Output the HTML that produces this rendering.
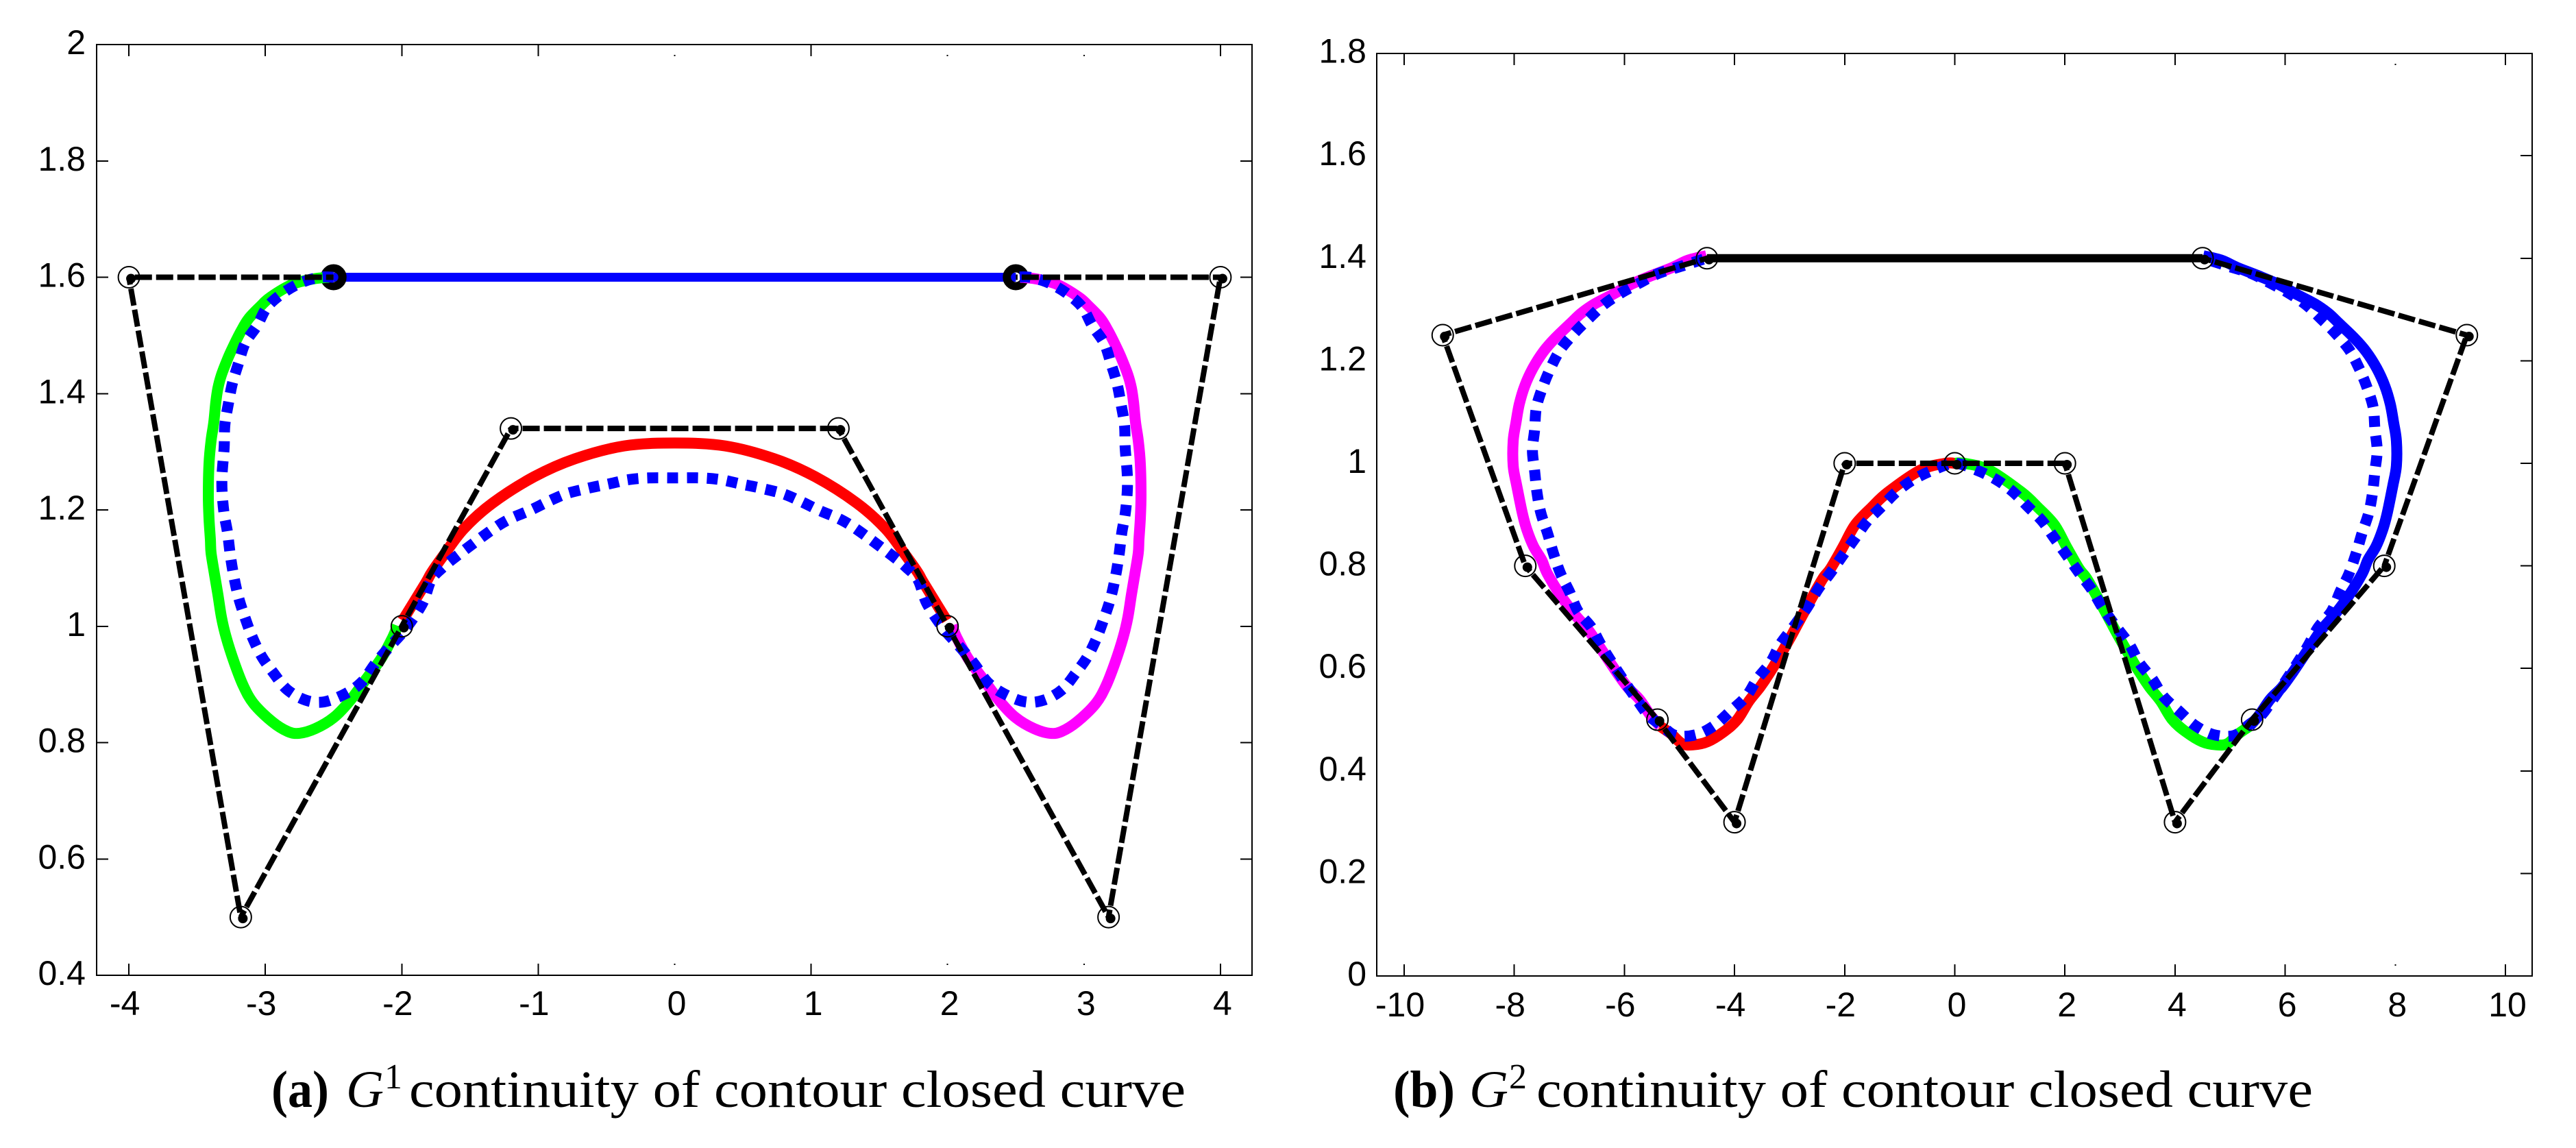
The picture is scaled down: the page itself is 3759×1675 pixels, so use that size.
<!DOCTYPE html>
<html lang="en">
<head>
<meta charset="utf-8">
<title>G1 and G2 continuity of contour closed curve</title>
<style>
html,body{margin:0;padding:0;background:#fff;}
svg{display:block;}
.tick-label{font-family:"Liberation Sans",Arial,sans-serif;fill:#000;}
.caption{font-family:"Liberation Serif","Times New Roman",serif;fill:#000;}
</style>
</head>
<body>
<svg id="figure" xmlns="http://www.w3.org/2000/svg" width="3759" height="1675" viewBox="0 0 3759 1675">
<rect x="0" y="0" width="3759" height="1675" fill="#ffffff"/>
<g id="chart-a"></g>
<g id="chart-b"></g>
<g>
<text class="caption" x="396" y="1615" font-size="76" font-weight="bold" textLength="84" lengthAdjust="spacingAndGlyphs">(a)</text>
<text class="caption" x="505" y="1615" font-size="76" font-style="italic" textLength="55" lengthAdjust="spacingAndGlyphs">G</text>
<text class="caption" x="561" y="1588" font-size="52">1</text>
<text class="caption" x="597" y="1615" font-size="76" textLength="1133" lengthAdjust="spacingAndGlyphs">continuity of contour closed curve</text>
</g>
<g>
<text class="caption" x="2033" y="1615" font-size="76" font-weight="bold" textLength="90" lengthAdjust="spacingAndGlyphs">(b)</text>
<text class="caption" x="2144" y="1615" font-size="76" font-style="italic" textLength="57" lengthAdjust="spacingAndGlyphs">G</text>
<text class="caption" x="2202" y="1588" font-size="52">2</text>
<text class="caption" x="2242" y="1615" font-size="76" textLength="1133" lengthAdjust="spacingAndGlyphs">continuity of contour closed curve</text>
</g>
</svg>
<script>
/* ---------- Chart (a) data ---------- */
const xTicksA = [-4,-3,-2,-1,0,1,2,3,4];
const xTickLabelsA = ["-4","-3","-2","-1","0","1","2","3","4"];
const yTicksA = [0.4,0.6,0.8,1,1.2,1.4,1.6,1.8,2];
const yTickLabelsA = ["0.4","0.6","0.8","1","1.2","1.4","1.6","1.8","2"];
const faintXTicksA = [0,2,3];
const controlPolygonA = [[-2.5,1.6],[-4,1.6],[-3.18,0.5],[-2,1],[-1.2,1.34],[1.2,1.34],[2,1],[3.18,0.5],[4,1.6],[2.5,1.6]];
const openPointsA = [[-4,1.6],[-3.18,0.5],[-2,1],[-1.2,1.34],[1.2,1.34],[2,1],[3.18,0.5],[4,1.6]];
const joinPointsA = [[-2.5,1.6],[2.5,1.6]];
const topSegmentA = [[-2.5,1.6],[2.5,1.6]];
const greenCurveA = [[-2.534,1.6],[-2.65,1.597],[-2.8,1.588],[-2.961,1.566],[-3.036,1.55],[-3.122,1.529],[-3.177,1.508],[-3.227,1.485],[-3.272,1.462],[-3.322,1.432],[-3.348,1.409],[-3.363,1.385],[-3.378,1.35],[-3.398,1.319],[-3.413,1.279],[-3.418,1.225],[-3.413,1.185],[-3.403,1.149],[-3.398,1.126],[-3.373,1.09],[-3.348,1.055],[-3.322,1.016],[-3.287,0.981],[-3.227,0.937],[-3.162,0.898],[-3.086,0.867],[-2.951,0.836],[-2.835,0.819],[-2.75,0.816],[-2.634,0.824],[-2.499,0.843],[-2.383,0.871],[-2.268,0.907],[-2.147,0.946],[-2.067,0.981],[-2.032,1.001]];
const magentaCurveA = [[2.534,1.6],[2.65,1.597],[2.8,1.588],[2.961,1.566],[3.036,1.55],[3.122,1.529],[3.177,1.508],[3.227,1.485],[3.272,1.462],[3.322,1.432],[3.348,1.409],[3.363,1.385],[3.378,1.35],[3.398,1.319],[3.413,1.279],[3.418,1.225],[3.413,1.185],[3.403,1.149],[3.398,1.126],[3.373,1.09],[3.348,1.055],[3.322,1.016],[3.287,0.981],[3.227,0.937],[3.162,0.898],[3.086,0.867],[2.951,0.836],[2.835,0.819],[2.75,0.816],[2.634,0.824],[2.499,0.843],[2.383,0.871],[2.268,0.907],[2.147,0.946],[2.067,0.981],[2.032,1.001]];
const redCurveA = [[-1.994,1.01],[-1.826,1.074],[-1.783,1.092],[-1.69,1.123],[-1.544,1.168],[-1.333,1.212],[-1.03,1.257],[-0.73,1.288],[-0.37,1.31],[0,1.315],[0.37,1.31],[0.73,1.288],[1.03,1.257],[1.333,1.212],[1.544,1.168],[1.69,1.123],[1.783,1.092],[1.826,1.074],[1.994,1.01]];
const blueDottedA = [[-2.5,1.6],[-2.6,1.6],[-2.735,1.591],[-2.87,1.573],[-2.986,1.549],[-3.06,1.517],[-3.147,1.487],[-3.197,1.452],[-3.242,1.417],[-3.272,1.381],[-3.297,1.346],[-3.302,1.307],[-3.317,1.262],[-3.317,1.231],[-3.302,1.193],[-3.277,1.161],[-3.257,1.123],[-3.232,1.087],[-3.197,1.05],[-3.152,1.017],[-3.097,0.982],[-3.026,0.948],[-2.941,0.92],[-2.84,0.891],[-2.705,0.873],[-2.57,0.87],[-2.413,0.884],[-2.293,0.904],[-2.197,0.935],[-2.1,0.962],[-1.974,0.995],[-1.849,1.039],[-1.783,1.08],[-1.695,1.102],[-1.585,1.123],[-1.344,1.165],[-1.213,1.184],[-1.062,1.199],[-0.922,1.215],[-0.791,1.228],[-0.62,1.238],[-0.475,1.245],[-0.339,1.252],[-0.188,1.255],[0,1.255],[0.188,1.255],[0.339,1.252],[0.475,1.245],[0.62,1.238],[0.791,1.228],[0.922,1.215],[1.062,1.199],[1.213,1.184],[1.344,1.165],[1.585,1.123],[1.695,1.102],[1.783,1.08],[1.849,1.039],[1.974,0.995],[2.1,0.962],[2.197,0.935],[2.293,0.904],[2.413,0.884],[2.57,0.87],[2.705,0.873],[2.84,0.891],[2.941,0.92],[3.026,0.948],[3.097,0.982],[3.152,1.017],[3.197,1.05],[3.232,1.087],[3.257,1.123],[3.277,1.161],[3.302,1.193],[3.317,1.231],[3.317,1.262],[3.302,1.307],[3.297,1.346],[3.272,1.381],[3.242,1.417],[3.197,1.452],[3.147,1.487],[3.06,1.517],[2.986,1.549],[2.87,1.573],[2.735,1.591],[2.6,1.6],[2.5,1.6]];

/* ---------- Chart (b) data ---------- */
const xTicksB = [-10,-8,-6,-4,-2,0,2,4,6,8,10];
const xTickLabelsB = ["-10","-8","-6","-4","-2","0","2","4","6","8","10"];
const yTicksB = [0,0.2,0.4,0.6,0.8,1,1.2,1.4,1.6,1.8];
const yTickLabelsB = ["0","0.2","0.4","0.6","0.8","1","1.2","1.4","1.6","1.8"];
const faintXTicksB = [8];
const controlPolygonB = [[-4.5,1.4],[-9.3,1.25],[-7.8,0.8],[-5.4,0.5],[-4,0.3],[-2,1],[2,1],[4,0.3],[5.4,0.5],[7.8,0.8],[9.3,1.25],[4.5,1.4]];
const openPointsB = [[-9.3,1.25],[-4.5,1.4],[4.5,1.4],[9.3,1.25],[-7.8,0.8],[7.8,0.8],[-5.4,0.5],[5.4,0.5],[-4,0.3],[4,0.3],[-2,1],[0,1],[2,1]];
const topSegmentB = [[-4.5,1.4],[4.5,1.4]];
const magentaCurveB = [[-4.51,1.405],[-4.85,1.396],[-5.13,1.382],[-5.51,1.366],[-5.88,1.349],[-6.22,1.329],[-6.54,1.311],[-6.78,1.293],[-6.96,1.275],[-7.25,1.245],[-7.47,1.218],[-7.66,1.186],[-7.81,1.151],[-7.91,1.115],[-7.97,1.079],[-8.02,1.044],[-8.02,0.995],[-7.96,0.959],[-7.91,0.932],[-7.85,0.901],[-7.77,0.87],[-7.65,0.838],[-7.5,0.811],[-7.4,0.785],[-7.15,0.741],[-6.9,0.705],[-6.65,0.674],[-6.4,0.634],[-6.15,0.594],[-5.94,0.563],[-5.73,0.54],[-5.53,0.509],[-5.35,0.487]];
const blueCurveB = [[4.51,1.405],[4.85,1.396],[5.13,1.382],[5.51,1.366],[5.88,1.349],[6.22,1.329],[6.54,1.311],[6.78,1.293],[6.96,1.275],[7.25,1.245],[7.47,1.218],[7.66,1.186],[7.81,1.151],[7.91,1.115],[7.97,1.079],[8.02,1.044],[8.02,0.995],[7.96,0.959],[7.91,0.932],[7.85,0.901],[7.77,0.87],[7.65,0.838],[7.5,0.811],[7.4,0.785],[7.15,0.741],[6.9,0.705],[6.65,0.674],[6.4,0.634],[6.15,0.594],[5.94,0.563],[5.73,0.54],[5.53,0.509],[5.35,0.487]];
const redCurveB = [[-5.35,0.487],[-5.16,0.473],[-4.95,0.453],[-4.74,0.451],[-4.49,0.457],[-4.2,0.476],[-3.95,0.5],[-3.74,0.536],[-3.54,0.563],[-3.37,0.59],[-3.2,0.62],[-2.95,0.667],[-2.71,0.715],[-2.41,0.773],[-2.26,0.794],[-2.03,0.837],[-1.81,0.88],[-1.51,0.914],[-1.21,0.944],[-0.62,0.987],[-0.17,1],[0,1]];
const greenCurveB = [[0,1],[0.17,1],[0.62,0.987],[1.21,0.944],[1.51,0.914],[1.81,0.88],[2.03,0.837],[2.26,0.794],[2.41,0.773],[2.71,0.715],[2.95,0.667],[3.2,0.62],[3.37,0.59],[3.54,0.563],[3.74,0.536],[3.95,0.5],[4.2,0.476],[4.49,0.457],[4.74,0.451],[4.95,0.453],[5.16,0.473],[5.35,0.487]];
const blueDottedB = [[-4.57,1.398],[-4.95,1.385],[-5.39,1.37],[-5.72,1.352],[-6.05,1.333],[-6.37,1.31],[-6.65,1.282],[-6.91,1.254],[-7.16,1.222],[-7.34,1.186],[-7.49,1.147],[-7.6,1.108],[-7.63,1.066],[-7.67,1.025],[-7.63,0.985],[-7.59,0.945],[-7.52,0.904],[-7.4,0.865],[-7.29,0.825],[-7.16,0.785],[-7,0.75],[-6.84,0.711],[-6.6,0.68],[-6.41,0.643],[-6.2,0.607],[-5.98,0.571],[-5.78,0.54],[-5.57,0.509],[-5.34,0.49],[-5.07,0.469],[-4.69,0.471],[-4.36,0.489],[-4.08,0.516],[-3.79,0.545],[-3.59,0.579],[-3.35,0.611],[-3.17,0.647],[-2.91,0.684],[-2.68,0.719],[-2.48,0.755],[-2.26,0.786],[-2.03,0.821],[-1.81,0.854],[-1.59,0.887],[-1.34,0.914],[-1.05,0.945],[-0.74,0.969],[-0.39,0.987],[0,1],[0.39,0.987],[0.74,0.969],[1.05,0.945],[1.34,0.914],[1.59,0.887],[1.81,0.854],[2.03,0.821],[2.26,0.786],[2.48,0.755],[2.68,0.719],[2.91,0.684],[3.17,0.647],[3.35,0.611],[3.59,0.579],[3.79,0.545],[4.08,0.516],[4.36,0.489],[4.69,0.471],[5.07,0.469],[5.34,0.49],[5.57,0.509],[5.78,0.54],[5.98,0.571],[6.2,0.607],[6.41,0.643],[6.6,0.68],[6.84,0.711],[7,0.75],[7.16,0.785],[7.29,0.825],[7.4,0.865],[7.52,0.904],[7.59,0.945],[7.63,0.985],[7.67,1.025],[7.63,1.066],[7.6,1.108],[7.49,1.147],[7.34,1.186],[7.16,1.222],[6.91,1.254],[6.65,1.282],[6.37,1.31],[6.05,1.333],[5.72,1.352],[5.39,1.37],[4.95,1.385],[4.57,1.398]];

/* ---------- Axis functions ---------- */
const xA = v => 984.5 + v * 199.1;
const yA = v => 1423 - (v - 0.4) * 848.75;
const xB = v => 2852.5 + v * 80.35;
const yB = v => 1424 - v * 748;

const NS = 'http://www.w3.org/2000/svg';
function make(parent, tag, name, attrs) {
  const el = document.createElementNS(NS, tag);
  
  
  for (const k in attrs) el.setAttribute(k, attrs[k]);
  parent.appendChild(el);
  return el;
}
/* Smooth path through the data points (Catmull-Rom segments). */
function smoothPath(data, fx, fy) {
  const p = data.map(d => [fx(d[0]), fy(d[1])]);
  let d = 'M' + p[0][0].toFixed(1) + ' ' + p[0][1].toFixed(1);
  for (let i = 0; i + 1 < p.length; i++) {
    const a = p[Math.max(i - 1, 0)], b = p[i], c = p[i + 1], e = p[Math.min(i + 2, p.length - 1)];
    const c1x = b[0] + (c[0] - a[0]) / 6, c1y = b[1] + (c[1] - a[1]) / 6;
    const c2x = c[0] - (e[0] - b[0]) / 6, c2y = c[1] - (e[1] - b[1]) / 6;
    d += 'C' + c1x.toFixed(1) + ' ' + c1y.toFixed(1) + ' ' + c2x.toFixed(1) + ' ' + c2y.toFixed(1) + ' ' + c[0].toFixed(1) + ' ' + c[1].toFixed(1);
  }
  return d;
}
function curve(parent, name, data, fx, fy, color, width, dash) {
  const a = {d: smoothPath(data, fx, fy), fill: 'none', stroke: color, 'stroke-width': width, 'stroke-linejoin': 'round'};
  if (dash) a['stroke-dasharray'] = dash;
  return make(parent, 'path', name, a);
}
function labelDx(label) {
  return label.charAt(0) === '-' ? -6 : 3;
}
function axes(g, o) {
  make(g, 'rect', 'plot-frame', {x: o.left, y: o.top, width: o.right - o.left, height: o.bottom - o.top, fill: 'none', stroke: '#000', 'stroke-width': 2, 'shape-rendering': 'crispEdges'});
  o.xTicks.forEach((v, i) => {
    const isFaint = o.faint.indexOf(v) >= 0;
    const x = o.fx(v);
    make(g, 'line', 'x-tick-bottom', {x1: x, x2: x, y1: o.bottom, y2: isFaint ? o.bottom - 17 : o.bottom - 17, stroke: '#000', 'stroke-width': 2, 'stroke-dasharray': isFaint ? '0 15 2 0' : 'none', 'shape-rendering': 'crispEdges'});
    make(g, 'line', 'x-tick-top', {x1: x, x2: x, y1: o.top, y2: o.top + 17, stroke: '#000', 'stroke-width': 2, 'stroke-dasharray': isFaint ? '0 15 2 0' : 'none', 'shape-rendering': 'crispEdges'});
    const t = make(g, 'text', 'x-tick-label', {x: x + labelDx(o.xLabels[i]), y: o.xBase, 'font-size': 50, 'text-anchor': 'middle', class: 'tick-label'});
    t.textContent = o.xLabels[i];
  });
  o.yTicks.forEach((v, i) => {
    const y = o.fy(v);
    const inner = v > o.yTicks[0] && v < o.yTicks[o.yTicks.length - 1];
    if (o.leftTicks && inner) {
      make(g, 'line', 'y-tick-left', {x1: o.left, x2: o.left + 17, y1: y, y2: y, stroke: '#000', 'stroke-width': 2, 'shape-rendering': 'crispEdges'});
    }
    if (inner) {
      make(g, 'line', 'y-tick-right', {x1: o.right, x2: o.right - 17, y1: y, y2: y, stroke: '#000', 'stroke-width': 2, 'shape-rendering': 'crispEdges'});
    }
    const t = make(g, 'text', 'y-tick-label', {x: o.yLabelX, y: y + 14, 'font-size': 50, 'text-anchor': 'end', class: 'tick-label'});
    t.textContent = o.yLabels[i];
  });
}
function polygon(g, data, fx, fy) {
  for (let i = 0; i + 1 < data.length; i++) {
    make(g, 'line', 'control-polygon-segment', {
      x1: fx(data[i][0]), y1: fy(data[i][1]), x2: fx(data[i + 1][0]), y2: fy(data[i + 1][1]),
      stroke: '#000', 'stroke-width': 8, 'stroke-dasharray': '25 6', 'stroke-dashoffset': 14
    });
  }
}
function points(g, data, fx, fy) {
  data.forEach(p => {
    make(g, 'circle', 'control-point-dot', {cx: fx(p[0]) + 3, cy: fy(p[1]) + 2, r: 7, fill: '#000'});
    make(g, 'circle', 'control-point-ring', {cx: fx(p[0]), cy: fy(p[1]), r: 15.5, fill: 'none', stroke: '#000', 'stroke-width': 2});
  });
}

/* ---------- Draw chart (a) ---------- */
const ga = document.getElementById('chart-a');
axes(ga, {left: 141, right: 1827, top: 65, bottom: 1423, fx: xA, fy: yA, xTicks: xTicksA, xLabels: xTickLabelsA, yTicks: yTicksA, yLabels: yTickLabelsA, faint: faintXTicksA, xBase: 1481, yLabelX: 125, leftTicks: true});
curve(ga, 'top-segment-blue', topSegmentA, xA, yA, '#0000ff', 13);
joinPointsA.forEach(p => {
  make(ga, 'circle', 'join-point-ring', {cx: xA(p[0]), cy: yA(p[1]), r: 13, fill: 'none', stroke: '#000', 'stroke-width': 12});
});
curve(ga, 'curve-green', greenCurveA, xA, yA, '#00ff00', 16);
curve(ga, 'curve-magenta', magentaCurveA, xA, yA, '#ff00ff', 16);
curve(ga, 'curve-red', redCurveA, xA, yA, '#ff0000', 16);
curve(ga, 'curve-blue-dotted', blueDottedA, xA, yA, '#0000ff', 16, '16 13');
polygon(ga, controlPolygonA, xA, yA);
points(ga, openPointsA, xA, yA);

/* ---------- Draw chart (b) ---------- */
const gb = document.getElementById('chart-b');
axes(gb, {left: 2009, right: 3695, top: 78, bottom: 1424, fx: xB, fy: yB, xTicks: xTicksB, xLabels: xTickLabelsB, yTicks: yTicksB, yLabels: yTickLabelsB, faint: faintXTicksB, xBase: 1483, yLabelX: 1994, leftTicks: false});
curve(gb, 'top-segment-black', topSegmentB, xB, yB, '#000000', 12);
curve(gb, 'curve-magenta', magentaCurveB, xB, yB, '#ff00ff', 16);
curve(gb, 'curve-blue', blueCurveB, xB, yB, '#0000ff', 16);
curve(gb, 'curve-red', redCurveB, xB, yB, '#ff0000', 16);
curve(gb, 'curve-green', greenCurveB, xB, yB, '#00ff00', 16);
curve(gb, 'curve-blue-dotted', blueDottedB, xB, yB, '#0000ff', 16, '16 13');
polygon(gb, controlPolygonB, xB, yB);
points(gb, openPointsB, xB, yB);
</script>
</body>
</html>
